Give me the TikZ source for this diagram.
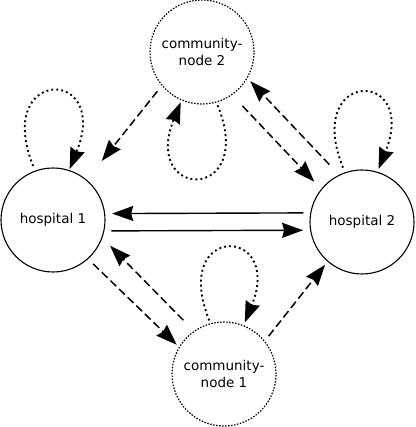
\documentclass[tikz,border=0pt]{standalone}
\usepackage{fontspec}
\setmainfont{DejaVu Sans}
\usetikzlibrary{arrows.meta}

\begin{document}
\begin{tikzpicture}[x=1pt, y=1pt,
    hospital/.style={circle, draw, line width=1.1pt, minimum size=104pt, inner sep=0pt, align=center, font=\fontsize{13.5}{16.5}\selectfont},
    community/.style={hospital, line width=1.2pt, dash pattern=on 1.5pt off 1.5pt},
    arrow/.style={-{Stealth[length=21pt, width=15pt, inset=2pt]}, line width=1.4pt},
    transfer/.style={arrow, line width=1.5pt, dash pattern=on 8pt off 4pt},
    selfloop/.style={arrow, line width=1.9pt, dash pattern=on 1.9pt off 3.1pt}
]
\useasboundingbox (0,0) rectangle (415,427);

\node[hospital] (h1) at (53,207) {hospital 1};
\node[hospital] (h2) at (362,205) {hospital 2};
\node[community] (cn2) at (202,375) {community-\\node 2};
\node[community] (cn1) at (224,53) {community-\\node 1};

\draw[arrow, shorten <=7pt, shorten >=7pt] (h2.170) -- (h1.7);
\draw[arrow, shorten <=7pt, shorten >=7pt] (h1.348) -- (h2.189);

\draw[transfer, shorten <=7pt, shorten >=24pt] (cn2.220) -- (h1.50);
\draw[transfer, shorten <=15pt, shorten >=10pt] (cn2.305) -- (h2.141);
\draw[transfer, shorten <=14pt, shorten >=4pt] (h2.116) -- (cn2.330);
\draw[transfer, shorten <=7pt, shorten >=3pt] (h1.312) -- (cn1.149);
\draw[transfer, shorten <=15pt, shorten >=11pt] (cn1.125) -- (h1.340);
\draw[transfer, shorten <=6pt, shorten >=4pt] (cn1.39) -- (h2.229);

\draw[selfloop, shorten <=5pt, shorten >=1pt] (h1.110) .. controls +(112:112) and +(68:112) .. (h1.72);
\draw[selfloop, shorten <=5pt, shorten >=3pt] (h2.109) .. controls +(112:112) and +(68:112) .. (h2.73);
\draw[selfloop, shorten <=3pt, shorten >=2pt] (cn2.286) .. controls +(-68:108) and +(248:108) .. (cn2.247);
\draw[selfloop, shorten <=3pt, shorten >=3pt] (cn1.105) .. controls +(112:108) and +(68:108) .. (cn1.68);
\end{tikzpicture}
\end{document}
